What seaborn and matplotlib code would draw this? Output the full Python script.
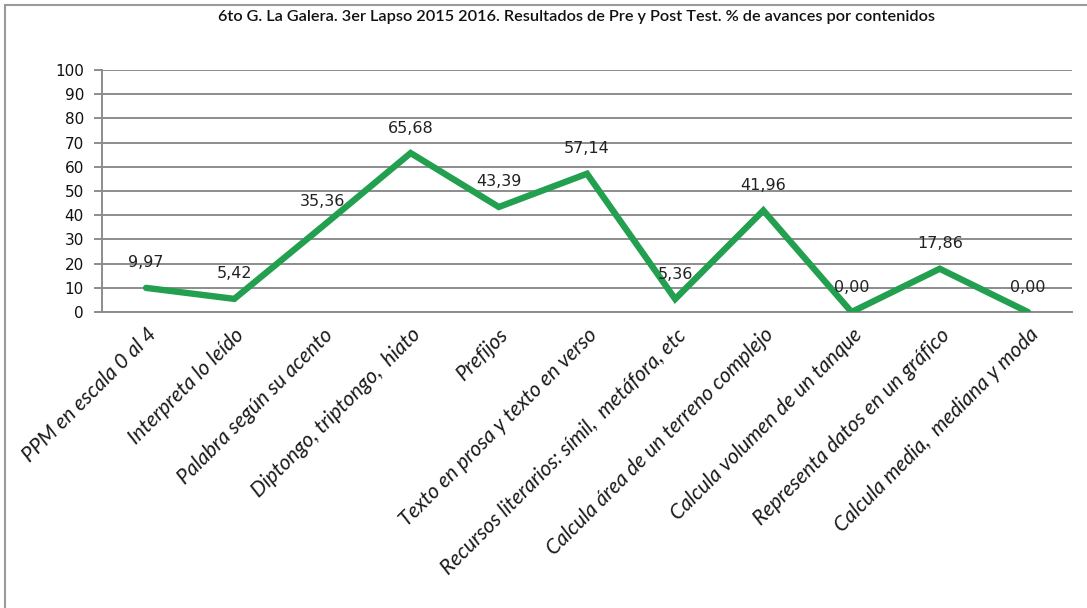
import matplotlib
matplotlib.use("Agg")
import matplotlib.pyplot as plt
from matplotlib.patches import Rectangle
import seaborn as sns
import pandas as pd

categories = [
    "PPM en escala 0 al 4",
    "Interpreta lo leído",
    "Palabra según su acento",
    "Diptongo, triptongo,  hiato",
    "Prefijos",
    "Texto en prosa y texto en verso",
    "Recursos literarios: símil,  metáfora, etc",
    "Calcula área de un terreno complejo",
    "Calcula volumen de un tanque",
    "Representa datos en un gráfico",
    "Calcula media,  mediana y moda",
]
avances = [9.97, 5.42, 35.36, 65.68, 43.39, 57.14, 5.36, 41.96, 0.00, 17.86, 0.00]
y_ticks = list(range(0, 101, 10))

title = ("6to G. La Galera. 3er Lapso 2015 2016. Resultados de Pre y Post Test. "
         "% de avances por contenidos")

sns.set_style("white")
plt.rcParams["font.family"] = ["DejaVu Sans"]

df = pd.DataFrame({"contenido": categories, "avance": avances})
df["pos"] = range(len(categories))

fig = plt.figure(figsize=(10.87, 6.08), dpi=100)
ax = fig.add_axes([102 / 1087, 1 - 312 / 608, (1072 - 102) / 1087, (312 - 70) / 608])

grid_c = "#8c8c8c"
for t in y_ticks:
    ax.axhline(t, color=grid_c, lw=1.4, zorder=0)

sns.lineplot(data=df, x="pos", y="avance", color="#22a050", lw=4.6,
             ax=ax, zorder=3, solid_joinstyle="miter")

for i, v in enumerate(avances):
    ax.annotate(f"{v:.2f}".replace(".", ","), (i, v), xytext=(0, 18),
                textcoords="offset points", ha="center", va="center",
                fontsize=11.5, color="#222222", zorder=4)

ax.set_xlim(-0.5, len(categories) - 0.5)
ax.set_ylim(0, 100)
ax.set_yticks(y_ticks)
ax.set_yticklabels([str(t) for t in y_ticks], fontsize=11, color="#111111")
ax.set_xticks(range(len(categories)))
ax.set_xticklabels(categories, rotation=45, ha="right", va="top",
                   rotation_mode="anchor", fontsize=15, fontstyle="italic",
                   family=["Lato", "DejaVu Sans"], color="#1a1a1a")
ax.set_xticks([i - 0.5 for i in range(len(categories) + 1)], minor=True)
ax.tick_params(axis="x", which="major", length=0, pad=9)
ax.tick_params(axis="x", which="minor", length=6, color=grid_c, width=1.4,
               direction="out")
ax.tick_params(axis="y", length=6, color=grid_c, width=1.4, direction="out",
               left=True, pad=7)
ax.set_xlabel("")
ax.set_ylabel("")
for side in ["top", "right"]:
    ax.spines[side].set_visible(False)
for side in ["left", "bottom"]:
    ax.spines[side].set_color(grid_c)
    ax.spines[side].set_linewidth(1.4)

fig.text(576 / 1087, 1 - 17 / 608, title, ha="center", va="center",
         fontsize=11.7, fontweight="semibold", family=["Lato", "DejaVu Sans"],
         color="#111111")

fig.add_artist(Rectangle((5 / 1087, -0.05), 1.1, 1 - 5 / 608 + 0.05,
                         transform=fig.transFigure, fill=False,
                         edgecolor="#9a9a9a", lw=1.5))

fig.savefig("out.png", dpi=100, facecolor="white")
